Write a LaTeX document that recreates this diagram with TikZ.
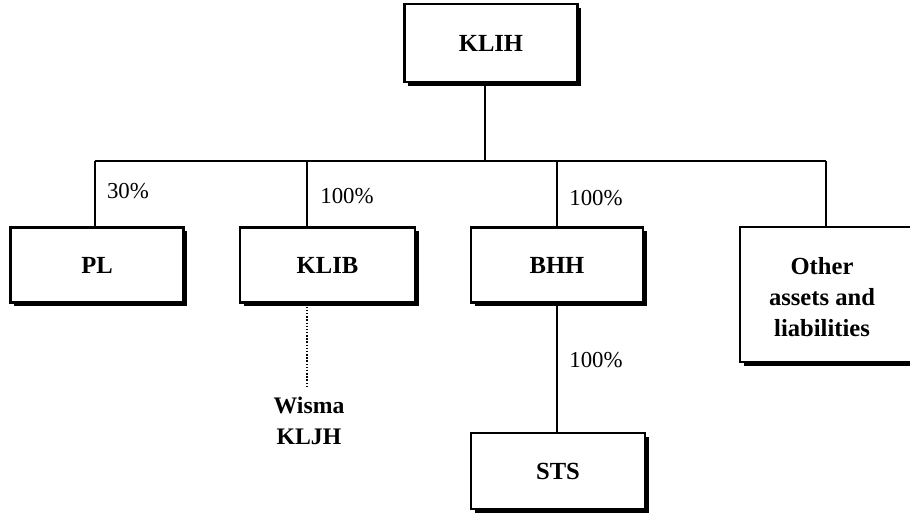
\documentclass[tikz,border=0pt]{standalone}
\usepackage{fontspec}
\setmainfont{Liberation Serif}
\usetikzlibrary{shadows}

\tikzset{
  orgbox/.style={draw, line width=1.2pt, fill=white, align=center,
    font=\fontsize{14}{16}\selectfont\bfseries,
    drop shadow={shadow xshift=2.2pt, shadow yshift=-2.2pt, fill=black, opacity=1}},
  pct/.style={font=\fontsize{13}{15}\selectfont},
  link/.style={line width=1.1pt},
}

\begin{document}
\begin{tikzpicture}[x=0.02cm, y=-0.02cm]
  \useasboundingbox (0,0) rectangle (910,517);

  % top holding
  \node[orgbox, minimum width=3.46cm, minimum height=1.56cm] (klih) at (491,43) {KLIH};

  % subsidiaries
  \node[orgbox, minimum width=3.46cm, minimum height=1.5cm] (pl) at (97,265) {PL};
  \node[orgbox, minimum width=3.5cm, minimum height=1.5cm] (klib) at (327.5,265) {KLIB};
  \node[orgbox, minimum width=3.44cm, minimum height=1.5cm] (bhh) at (557,265) {BHH};
  \node[orgbox, minimum width=3.48cm, minimum height=1.52cm] (sts) at (558,471) {STS};

  % other assets box runs off the page on the right
  \path[orgbox] (740,227) rectangle (935,362);
  \node[font=\fontsize{14}{17.8}\selectfont\bfseries, align=center] (other) at (822,297) {Other\\assets and\\liabilities};

  % Wisma KLJH (no box)
  \node[font=\fontsize{13.5}{18}\selectfont\bfseries, align=center] (wisma) at (309,421) {Wisma\\KLJH};

  % connector points
  \coordinate (lbar) at (95,161);
  \coordinate (rbar) at (826,161);
  \coordinate (klihstem) at (485,82);
  \coordinate (klibtop) at (307,227);
  \coordinate (othertop) at (826,227);

  \draw[link] (klihstem) -- (klihstem |- lbar);
  \draw[link] (lbar) -- (rbar);
  \draw[link] (lbar) -- (pl.north -| lbar);
  \draw[link] (klibtop |- lbar) -- (klibtop);
  \draw[link] (bhh.north |- lbar) -- (bhh.north);
  \draw[link] (rbar) -- (othertop);
  \draw[link] (bhh.south) -- (bhh.south |- sts.north);
  \draw[line width=0.8pt, densely dotted] (klib.south -| klibtop) -- ([yshift=2pt]wisma.north -| klibtop);

  % holdings
  \node[pct] (p1) at (128,191) {30\%};
  \node[pct] (p2) at (347,196) {100\%};
  \node[pct] (p3) at (596,198) {100\%};
  \node[pct] (p4) at (596,360) {100\%};
\end{tikzpicture}
\end{document}
